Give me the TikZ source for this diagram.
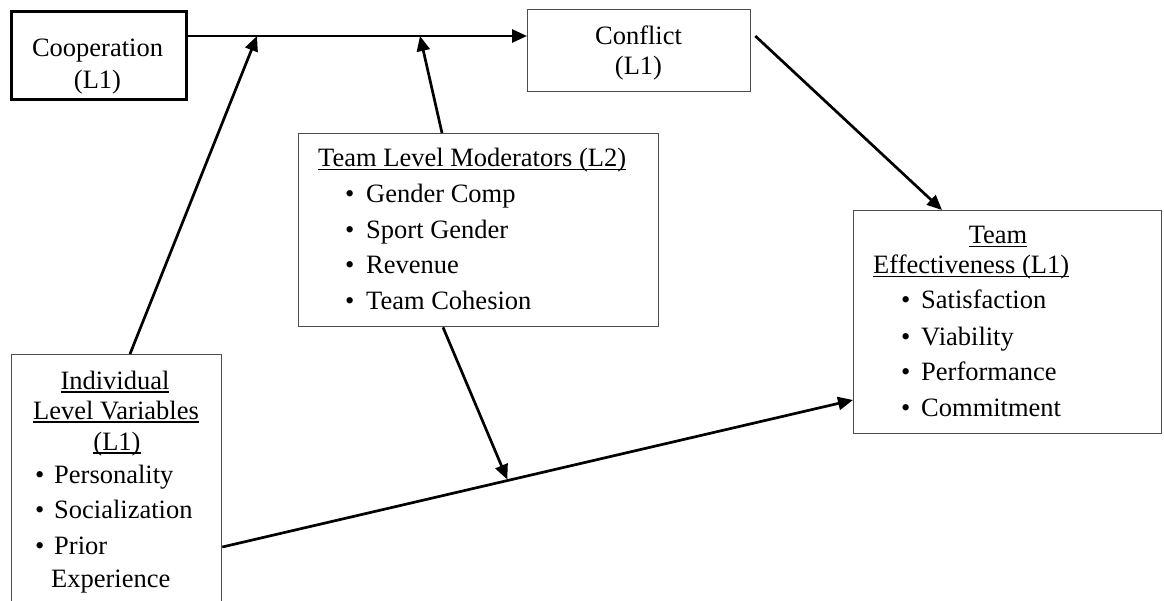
\documentclass[tikz,border=0pt]{standalone}
\usepackage{fontspec}
\setmainfont{Liberation Serif}
\usetikzlibrary{arrows.meta,calc}
\newlength\ulwd
\newcommand\uln[1]{\settowidth\ulwd{#1}\rlap{\rule[-3.5pt]{\ulwd}{1.3pt}}#1}
\tikzset{
  box/.style={draw=black!70, line width=1.3pt, inner sep=0pt, anchor=north west},
  thickbox/.style={draw=black, line width=2.6pt, inner sep=0pt, anchor=north west},
  txt/.style={inner sep=0pt, font=\fontsize{26.5pt}{30pt}\selectfont},
  ctr/.style={txt, anchor=base},
  lft/.style={txt, anchor=base west},
  arr/.style={line width=2.7pt, -{Triangle[length=15pt,width=13pt]}}
}
\begin{document}
\begin{tikzpicture}[x=1pt,y=-1pt]
\useasboundingbox (0,0) rectangle (1164,601);
\clip (0,0) rectangle (1164,601);
% boxes
\node[thickbox, minimum width=175pt, minimum height=88pt] (coop) at (10,10) {};
\node[box, minimum width=223pt, minimum height=82pt] (conf) at (527,9) {};
\node[box, minimum width=360pt, minimum height=193pt] (mod) at (298,133) {};
\node[box, minimum width=308pt, minimum height=223pt] (eff) at (853,210) {};
\node[box, minimum width=210pt, minimum height=280pt] (ind) at (11,354) {};
% texts
\node[ctr] (coopA) at (97.5,57) {Cooperation};
\node[ctr] (coopB) at (97.5,89) {(L1)};
\node[ctr] (confA) at (638.5,45) {Conflict};
\node[ctr] (confB) at (638.5,75) {(L1)};
\node[lft] (modT) at (318,167) {\uln{Team Level Moderators (L2)}};
\node[lft] (modb1) at (345,203) {\textbullet};
\node[lft] (modi1) at (366,203) {Gender Comp};
\node[lft] (modb2) at (345,238.5) {\textbullet};
\node[lft] (modi2) at (366,238.5) {Sport Gender};
\node[lft] (modb3) at (345,274) {\textbullet};
\node[lft] (modi3) at (366,274) {Revenue};
\node[lft] (modb4) at (345,309.5) {\textbullet};
\node[lft] (modi4) at (366,309.5) {Team Cohesion};
\node[ctr] (effT1) at (998,244) {\uln{Team}};
\node[lft] (effT2) at (873,274) {\uln{Effectiveness (L1)}};
\node[lft] (effb1) at (901,309) {\textbullet};
\node[lft] (effi1) at (921,309) {Satisfaction};
\node[lft] (effb2) at (901,345) {\textbullet};
\node[lft] (effi2) at (921,345) {Viability};
\node[lft] (effb3) at (901,381) {\textbullet};
\node[lft] (effi3) at (921,381) {Performance};
\node[lft] (effb4) at (901,416) {\textbullet};
\node[lft] (effi4) at (921,416) {Commitment};
\node[ctr] (indT1) at (115,389) {\uln{Individual}};
\node[ctr] (indT2) at (116,419) {\uln{Level Variables}};
\node[ctr] (indT3) at (117,450) {\uln{(L1)}};
\node[lft] (indb1) at (35,483) {\textbullet};
\node[lft] (indi1) at (54,483) {Personality};
\node[lft] (indb2) at (35,518) {\textbullet};
\node[lft] (indi2) at (54,518) {Socialization};
\node[lft] (indb3) at (35,554) {\textbullet};
\node[lft] (indi3) at (54,554) {Prior};
\node[lft] (indi4) at (51,587) {Experience};
% junction points
\coordinate (m1) at (257,36);
\coordinate (m2) at (420,36);
\coordinate (p1) at ([yshift=-193pt]ind.north east);
\coordinate (p2) at ([yshift=-190pt]eff.north west);
\coordinate (m3) at ($(p1)!0.4525!(p2)$);
% connectors
\draw[arr] (coop.east |- m1) -- (conf.west |- m1);
\draw[arr] ([xshift=119pt]ind.north west) -- (m1);
\draw[arr] ([xshift=144pt]mod.north west) -- (m2);
\draw[arr] ([shift={(4pt,-27pt)}]conf.north east) -- ([xshift=89pt]eff.north west);
\draw[arr] (p1) -- (p2);
\draw[arr, shorten >=1pt] ([xshift=145pt]mod.south west) -- (m3);
\end{tikzpicture}
\end{document}
